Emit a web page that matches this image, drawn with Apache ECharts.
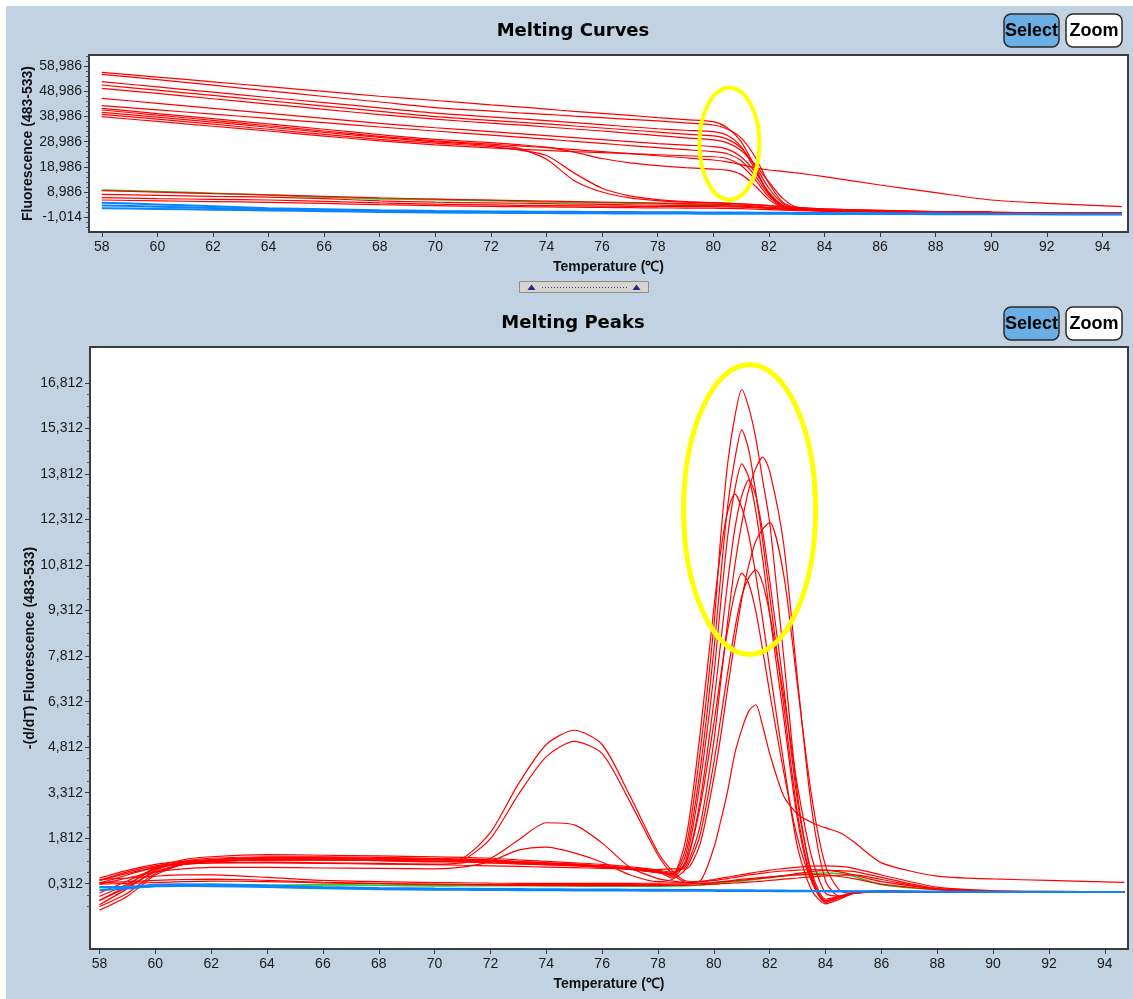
<!DOCTYPE html>
<html><head><meta charset="utf-8">
<script src="https://cdn.jsdelivr.net/npm/echarts@6/dist/echarts.min.js"></script>
<style>
html,body{margin:0;padding:0;background:#fff;}
#bg{position:absolute;left:6px;top:6px;width:1127px;height:993px;background:#C1D3E3;}
#chart{position:absolute;left:0;top:0;width:1133px;height:999px;}
</style></head><body><div id="bg"></div><div id="chart"></div>
<script>
// ---------- Melting Curves (top) ----------
const curveTemps = [58, 60, 62, 64, 66, 68, 70, 72, 73, 74, 75, 76, 77, 78, 79, 80, 80.5, 81, 81.5, 82, 82.5, 83, 84, 86, 88, 90, 92, 94.7];
const curveU1 = [56490, 54600, 52700, 50800, 48900, 47000, 45300, 43600, 42800, 41900, 41000, 40200, 39400, 38500, 37700, 36900, 34500, 29000, 19000, 8000, 3500, 2400, 1900, 1500, 1100, 950, 850, 800];
const curveU2 = [55700, 53600, 51400, 49100, 46900, 44700, 42500, 41100, 40400, 39800, 39100, 38500, 37800, 37200, 36400, 35600, 34000, 30500, 23000, 12500, 5000, 2600, 2000, 1550, 1150, 950, 850, 800];
const curveU3 = [52760, 50700, 48600, 46500, 44500, 42400, 40300, 38800, 38100, 37300, 36500, 35700, 34900, 34100, 33500, 32950, 31500, 27000, 18000, 8500, 3500, 2300, 1850, 1450, 1100, 900, 820, 780];
const curveU4 = [51450, 49400, 47300, 45200, 43100, 41000, 38900, 37400, 36700, 36000, 35200, 34400, 33600, 32800, 32000, 31250, 30000, 26500, 19500, 10500, 4500, 2500, 1950, 1500, 1100, 920, 830, 780];
const curveU5 = [50140, 48100, 46000, 43900, 41800, 39700, 37900, 36300, 35600, 34800, 34000, 33200, 32300, 31400, 30500, 29660, 28500, 25500, 20000, 13000, 6500, 3000, 2100, 1600, 1150, 950, 850, 800];
const curveU6 = [46170, 44200, 42200, 40200, 38200, 36200, 34500, 33000, 32200, 31400, 30600, 29800, 29000, 28200, 27600, 27000, 26000, 23000, 17000, 9000, 3800, 2300, 1850, 1450, 1100, 900, 820, 780];
const curveL1 = [43240, 41600, 39900, 38200, 36500, 34800, 33200, 31600, 30800, 30000, 29100, 28300, 27400, 26600, 25800, 25020, 24200, 21500, 15500, 8000, 3500, 2200, 1800, 1400, 1050, 880, 800, 760];
const curveL2 = [42200, 40100, 38100, 36000, 33900, 31800, 29900, 28600, 27800, 26800, 24800, 22300, 20600, 19500, 18700, 18100, 17700, 16000, 11500, 6000, 3000, 2000, 1700, 1350, 1000, 860, 780, 740];
const curveL3 = [41530, 39500, 37400, 35300, 33200, 31100, 29300, 28000, 27300, 26600, 25800, 25000, 24200, 23400, 22600, 21720, 21000, 19900, 18600, 17750, 17200, 16600, 15100, 11800, 8750, 5850, 4540, 3190];
const curveL4 = [40620, 38700, 36700, 34700, 32700, 30700, 28900, 27500, 26300, 22000, 13500, 9000, 6700, 5600, 5000, 4700, 4500, 4300, 4000, 3600, 3200, 2900, 2300, 1700, 1250, 950, 820, 760];
const curveL5 = [39830, 37900, 35900, 33900, 31900, 29900, 28400, 27000, 25700, 23500, 16500, 10500, 7500, 6000, 5200, 4800, 4600, 4300, 4000, 3600, 3200, 2900, 2300, 1700, 1250, 950, 820, 760];
const curveL6 = [38880, 37000, 35100, 33200, 31200, 29300, 27700, 26500, 26000, 25500, 25000, 24600, 24200, 23800, 23400, 23000, 22300, 19500, 14000, 7000, 3200, 2100, 1750, 1400, 1050, 880, 800, 760];
const curveR1 = [9540, 9000, 8400, 7900, 7300, 6700, 6200, 5800, 5600, 5400, 5200, 5000, 4800, 4600, 4400, 4200, 4000, 3800, 3500, 3000, 2700, 2400, 1900, 1450, 1100, 900, 750, 650];
const curveR2 = [8110, 7700, 7300, 7000, 6400, 5500, 5000, 4700, 4550, 4400, 4250, 4100, 3950, 3800, 3700, 3600, 3450, 3300, 3050, 2750, 2450, 2150, 1750, 1300, 1000, 820, 700, 600];
const curveR3 = [6760, 6400, 6100, 5850, 5300, 4700, 4200, 3900, 3750, 3650, 3550, 3450, 3350, 3250, 3200, 3190, 3100, 3000, 2800, 2550, 2300, 2050, 1650, 1250, 950, 800, 700, 600];
const curveR4 = [5850, 5500, 5200, 4940, 4500, 4000, 3600, 3300, 3200, 3100, 3000, 2900, 2800, 2700, 2650, 2600, 2500, 2400, 2250, 2050, 1850, 1650, 1350, 1050, 850, 700, 620, 560];
const curveG1 = [9820, 9200, 8500, 7800, 7000, 6300, 6000, 5600, 5300, 5050, 4900, 4750, 4600, 4450, 4200, 3870, 3600, 3300, 3000, 2600, 2300, 2000, 1600, 1250, 1000, 800, 650, 550];
const curveB1 = [4780, 4100, 3400, 2560, 2200, 1800, 1500, 1300, 1250, 1200, 1150, 1100, 1050, 1000, 950, 900, 880, 860, 840, 800, 760, 720, 650, 550, 450, 350, 280, 200];
const curveB2 = [3700, 3200, 2700, 2100, 1800, 1500, 1250, 1100, 1050, 1000, 950, 900, 850, 800, 760, 720, 700, 680, 660, 640, 610, 580, 520, 430, 350, 280, 220, 180];
const curveB3 = [2600, 2300, 2000, 1700, 1400, 1100, 900, 750, 700, 650, 600, 560, 520, 480, 450, 420, 400, 390, 380, 370, 355, 340, 310, 270, 230, 200, 180, 170];

// ---------- Melting Peaks (bottom) ----------
const peakTemps = [58, 59, 60, 61, 62, 64, 66, 68, 70, 71, 72, 73, 74, 75, 76, 77, 78, 78.5, 79, 79.5, 80, 80.25, 80.5, 80.75, 81, 81.25, 81.5, 81.75, 82, 82.5, 83, 83.5, 84, 84.5, 85, 86, 88, 90, 92, 94.7];
const peakP1 = [-380, 150, 750, 1050, 1150, 1200, 1200, 1180, 1150, 1120, 1100, 1050, 1000, 950, 900, 820, 700, 600, 1500, 4600, 8800, 11800, 14200, 15700, 16600, 16000, 15000, 13600, 12200, 7800, 3200, 600, -300, -150, 0, 60, 40, 30, 30, 30];
const peakP2 = [-240, 250, 850, 1100, 1200, 1270, 1250, 1230, 1200, 1180, 1150, 1100, 1050, 1000, 950, 870, 750, 550, 1300, 4000, 8000, 10500, 12800, 14300, 15270, 14600, 13200, 11600, 9800, 6200, 2600, 500, -250, -100, 20, 60, 40, 30, 30, 30];
const peakP3 = [500, 750, 950, 1050, 1100, 1150, 1150, 1120, 1100, 1080, 1050, 1000, 980, 940, 880, 800, 700, 500, 1100, 3600, 7200, 9600, 11800, 13300, 14150, 13700, 12600, 11000, 9200, 5800, 2400, 400, -300, -150, 0, 50, 40, 30, 30, 30];
const peakP4 = [420, 700, 900, 1000, 1050, 1100, 1100, 1080, 1050, 1030, 1000, 980, 950, 920, 880, 820, 750, 700, 900, 2200, 5000, 7000, 9000, 10800, 12200, 13300, 14000, 14370, 13900, 11500, 7000, 2800, 400, -100, 0, 80, 40, 30, 30, 30];
const peakP5 = [6, 400, 800, 1000, 1100, 1180, 1180, 1150, 1120, 1100, 1080, 1030, 1000, 960, 900, 830, 720, 650, 1000, 3000, 6300, 8300, 10300, 12000, 13100, 13620, 13100, 11900, 10300, 6800, 3000, 700, -200, -100, 0, 50, 40, 30, 30, 30];
const peakP6 = [-106, 300, 800, 1020, 1100, 1150, 1150, 1130, 1100, 1080, 1050, 1000, 960, 920, 860, 780, 680, 600, 1800, 5200, 9400, 11300, 12600, 13160, 12700, 11800, 10500, 9000, 7400, 4300, 1500, 100, -350, -200, -20, 40, 40, 30, 30, 30];
const peakP7 = [330, 600, 850, 950, 1000, 1000, 980, 960, 940, 920, 900, 880, 860, 840, 820, 800, 780, 800, 800, 1600, 3800, 5200, 6800, 8300, 9700, 10800, 11600, 12000, 12217, 10500, 6800, 3200, 900, 100, 0, 80, 40, 30, 30, 30];
const peakP8 = [-238, 200, 700, 950, 1050, 1100, 1100, 1080, 1050, 1030, 1000, 960, 930, 900, 850, 780, 680, 650, 1000, 2800, 5600, 7200, 8700, 9900, 10550, 10200, 9300, 8000, 6600, 4000, 1800, 400, -250, -150, 0, 50, 40, 30, 30, 30];
const peakP9 = [300, 500, 700, 800, 850, 850, 830, 820, 800, 860, 1050, 1420, 1520, 1330, 1020, 600, 380, 450, 800, 1900, 4300, 5800, 7300, 8700, 9800, 10400, 10658, 10200, 9200, 6500, 3500, 1200, 0, -100, 0, 60, 40, 30, 30, 30];
const peakP10 = [420, 650, 850, 950, 1000, 1020, 1000, 980, 960, 1000, 1150, 1750, 2320, 2250, 1650, 850, 480, 400, 350, 400, 1500, 2400, 3400, 4600, 5400, 6000, 6210, 5500, 4600, 3200, 2600, 2330, 2150, 2000, 1700, 1000, 560, 470, 420, 355];
const peakQ1 = [-560, -100, 600, 950, 1050, 1100, 1100, 1080, 1050, 1150, 2000, 3600, 4900, 5370, 4900, 3200, 1350, 750, 400, 380, 420, 450, 480, 520, 560, 600, 630, 660, 690, 730, 760, 780, 760, 700, 600, 380, 150, 80, 60, 50];
const peakQ2 = [-440, 0, 650, 950, 1050, 1100, 1100, 1070, 1030, 1100, 1800, 3250, 4500, 5000, 4600, 3000, 1250, 650, 350, 320, 350, 380, 400, 430, 460, 480, 500, 520, 540, 570, 600, 620, 600, 550, 480, 300, 120, 60, 50, 40];
const peakR1 = [450, 500, 560, 600, 600, 520, 420, 380, 350, 340, 330, 325, 320, 320, 320, 325, 330, 340, 350, 380, 450, 490, 530, 570, 610, 650, 690, 720, 760, 810, 860, 890, 900, 880, 820, 600, 200, 80, 50, 40];
const peakR2 = [300, 320, 350, 380, 400, 380, 340, 310, 290, 285, 280, 280, 280, 280, 280, 285, 290, 295, 300, 320, 350, 370, 390, 410, 430, 450, 470, 490, 510, 580, 650, 710, 750, 740, 720, 520, 150, 60, 45, 40];
const peakR3 = [350, 380, 420, 450, 460, 420, 360, 320, 290, 280, 270, 260, 255, 250, 250, 250, 250, 255, 260, 270, 300, 310, 320, 335, 350, 365, 380, 400, 420, 460, 500, 540, 570, 590, 600, 450, 120, 55, 45, 40];
const peakG1 = [180, 200, 230, 270, 300, 260, 280, 260, 240, 245, 250, 245, 240, 235, 230, 230, 230, 235, 245, 270, 300, 330, 360, 380, 400, 430, 460, 490, 520, 570, 620, 650, 665, 640, 560, 280, 120, 60, 50, 40];
const peakB1 = [200, 210, 280, 290, 280, 250, 200, 170, 150, 145, 140, 135, 130, 125, 120, 115, 110, 108, 105, 103, 100, 98, 96, 95, 94, 93, 92, 91, 90, 85, 80, 75, 70, 68, 65, 60, 50, 45, 40, 40];
const peakB2 = [100, 150, 230, 240, 230, 200, 160, 130, 115, 110, 105, 100, 95, 90, 88, 85, 82, 80, 80, 78, 76, 75, 74, 73, 72, 71, 70, 69, 68, 66, 64, 62, 60, 58, 55, 50, 45, 40, 38, 35];

// ---------- tick labels ----------
const tempTicks = [58, 60, 62, 64, 66, 68, 70, 72, 74, 76, 78, 80, 82, 84, 86, 88, 90, 92, 94];
const curveTickValues = [-1014, 8986, 18986, 28986, 38986, 48986, 58986];
const curveTickLabels = ['-1,014', '8,986', '18,986', '28,986', '38,986', '48,986', '58,986'];
const peakTickValues = [312, 1812, 3312, 4812, 6312, 7812, 9312, 10812, 12312, 13812, 15312, 16812];
const peakTickLabels = ['0,312', '1,812', '3,312', '4,812', '6,312', '7,812', '9,312', '10,812', '12,312', '13,812', '15,312', '16,812'];

// ---------- groups ----------
const curveRed = [curveR1, curveR2, curveR3, curveR4, curveU1, curveU2, curveU3, curveU4, curveU5, curveU6, curveL1, curveL2, curveL3, curveL4, curveL5, curveL6];
const curveGreen = [curveG1];
const curveBlue = [curveB1, curveB2, curveB3];
const peakRed = [peakR1, peakR2, peakR3, peakQ1, peakQ2, peakP1, peakP2, peakP3, peakP4, peakP5, peakP6, peakP7, peakP8, peakP9, peakP10];
const peakGreen = [peakG1];
const peakBlue = [peakB1, peakB2];

const RED = '#FF0000', GREEN = '#22CC22', BLUE = '#0A84FF';
const FONT = '"Liberation Sans", Arial, sans-serif';

function minorTicks(start, step, from, to, majors) {
  const out = [];
  for (let v = start; v <= to + 0.01; v += step) {
    if (v >= from - 0.01 && !majors.some(m => Math.abs(m - v) < 1)) out.push(v);
  }
  return out;
}
const curveMinor = minorTicks(-5014, 2000, -5014, 62986, curveTickValues);
const peakMinor = minorTicks(-438, 375, -438, 16812, peakTickValues);

function labelFor(values, labels) {
  return function (v) {
    for (let i = 0; i < values.length; i++) if (Math.abs(values[i] - v) < 0.5) return labels[i];
    return '';
  };
}

function xAxisCfg(gi, min, max) {
  return {
    type: 'value', gridIndex: gi, min: min, max: max,
    name: 'Temperature (℃)', nameLocation: 'middle', nameGap: 28, nameMoveOverlap: false,
    nameTextStyle: { fontFamily: FONT, fontWeight: 'bold', fontSize: 14, color: '#111' },
    axisLine: { show: false, onZero: false },
    axisTick: { show: true, length: 5, customValues: tempTicks, lineStyle: { color: '#3a3a3a', width: 1 } },
    axisLabel: { customValues: tempTicks, margin: 8, fontFamily: FONT, fontSize: 14, color: '#1a1a1a', formatter: v => String(v) },
    splitLine: { show: false }
  };
}
function yAxisCfg(gi, min, max, name, gap, values, labels) {
  return {
    type: 'value', gridIndex: gi, min: min, max: max, position: 'left',
    name: name, nameLocation: 'middle', nameGap: gap, nameMoveOverlap: false,
    nameTextStyle: { fontFamily: FONT, fontWeight: 'bold', fontSize: 14, color: '#111' },
    axisLine: { show: false, onZero: false },
    axisTick: { show: true, length: 5, customValues: values, lineStyle: { color: '#3a3a3a', width: 1 } },
    axisLabel: { customValues: values, margin: 7, fontFamily: FONT, fontSize: 14, color: '#1a1a1a', formatter: labelFor(values, labels) },
    splitLine: { show: false }
  };
}
function yMinorCfg(gi, min, max, minors) {
  return {
    type: 'value', gridIndex: gi, min: min, max: max, position: 'left',
    axisLine: { show: false, onZero: false },
    axisTick: { show: true, length: 3, customValues: minors, lineStyle: { color: '#555', width: 1 } },
    axisLabel: { show: false }, splitLine: { show: false }
  };
}
function lineSeries(temps, values, gi, color, width, z) {
  return {
    type: 'line', xAxisIndex: gi, yAxisIndex: gi * 2,
    data: temps.map((t, i) => [t, values[i]]),
    showSymbol: false, symbol: 'none', silent: true, animation: false, clip: true,
    smooth: 0.25,
    lineStyle: { color: color, width: width }, itemStyle: { color: color },
    emphasis: { disabled: true }, z: z
  };
}

const series = [];
curveGreen.forEach(v => series.push(lineSeries(curveTemps, v, 0, GREEN, 1.6, 2)));
curveRed.forEach(v => series.push(lineSeries(curveTemps, v, 0, RED, 1.2, 3)));
curveBlue.forEach(v => series.push(lineSeries(curveTemps, v, 0, BLUE, 2, 4)));
peakGreen.forEach(v => series.push(lineSeries(peakTemps, v, 1, GREEN, 1.6, 2)));
peakRed.forEach(v => series.push(lineSeries(peakTemps, v, 1, RED, 1.2, 3)));
peakBlue.forEach(v => series.push(lineSeries(peakTemps, v, 1, BLUE, 2, 4)));

const chart = echarts.init(document.getElementById('chart'), null, { renderer: 'canvas' });
const option = {
  animation: false,
  backgroundColor: 'transparent',
  textStyle: { fontFamily: FONT },
  grid: [
    { left: 89, top: 55, right: 5, height: 177, show: true, backgroundColor: '#fff', borderColor: '#3c3c3c', borderWidth: 2, outerBoundsMode: 'none' },
    { left: 90, top: 347, right: 5, height: 602, show: true, backgroundColor: '#fff', borderColor: '#3c3c3c', borderWidth: 2, outerBoundsMode: 'none' }
  ],
  xAxis: [xAxisCfg(0, 57.54, 94.92), xAxisCfg(1, 57.66, 94.83)],
  yAxis: [
    yAxisCfg(0, -6843, 63348, 'Fluorescence (483-533)', 54, curveTickValues, curveTickLabels),
    yMinorCfg(0, -6843, 63348, curveMinor),
    yAxisCfg(1, -1840, 18000, '-(d/dT) Fluorescence (483-533)', 53, peakTickValues, peakTickLabels),
    yMinorCfg(1, -1840, 18000, peakMinor)
  ],
  series: series
};
chart.setOption(option);

function button(x, y, w, h, label, fill) {
  return [
    { type: 'rect', z: 50, shape: { x: x, y: y, width: w, height: h, r: 7 }, style: { fill: fill, stroke: '#2a2a2a', lineWidth: 1.5 } },
    { type: 'text', z: 51, x: x + w / 2, y: y + h / 2 + 1, style: { text: label, font: 'bold 18px "Liberation Sans Narrow", "Liberation Sans", Arial, sans-serif', fill: '#000', align: 'center', verticalAlign: 'middle', textAlign: 'center', textVerticalAlign: 'middle' } }
  ];
}
function title(text, cx, cy) {
  return { type: 'text', z: 50, x: cx, y: cy, style: { text: text, font: 'bold 18px "DejaVu Sans", sans-serif', fill: '#000', align: 'center', verticalAlign: 'middle', textAlign: 'center', textVerticalAlign: 'middle' } };
}

const c1 = chart.convertToPixel({ gridIndex: 0 }, [80.58, 28170]);
const c2 = chart.convertToPixel({ gridIndex: 1 }, [81.28, 12645]);

const graphics = [].concat(
  [title('Melting Curves', 573, 31), title('Melting Peaks', 573, 323)],
  button(1004, 14, 55, 33, 'Select', '#6AAEE4'),
  button(1066, 14, 56, 33, 'Zoom', '#FFFFFF'),
  button(1004, 307, 55, 33, 'Select', '#6AAEE4'),
  button(1066, 307, 56, 33, 'Zoom', '#FFFFFF'),
  [
    { type: 'rect', z: 50, shape: { x: 519.5, y: 281.5, width: 129, height: 11 }, style: { fill: '#D8D5CF', stroke: '#8C8C8C', lineWidth: 1 } },
    { type: 'polygon', z: 51, shape: { points: [[527.5, 290], [535.5, 290], [531.5, 284.5]] }, style: { fill: '#1C2A8A' } },
    { type: 'polygon', z: 51, shape: { points: [[632.5, 290], [640.5, 290], [636.5, 284.5]] }, style: { fill: '#1C2A8A' } },
    { type: 'line', z: 51, shape: { x1: 542, y1: 287.5, x2: 628, y2: 287.5 }, style: { stroke: '#3040A0', lineWidth: 1, lineDash: [1, 2] } },
    { type: 'ellipse', z: 60, shape: { cx: c1[0], cy: c1[1], rx: 30, ry: 56 }, style: { fill: 'rgba(0,0,0,0)', stroke: '#FFFF00', lineWidth: 4 } },
    { type: 'ellipse', z: 60, shape: { cx: c2[0], cy: c2[1], rx: 66, ry: 145 }, style: { fill: 'rgba(0,0,0,0)', stroke: '#FFFF00', lineWidth: 5 } }
  ]
);
chart.setOption({ graphic: graphics });
</script></body></html>
